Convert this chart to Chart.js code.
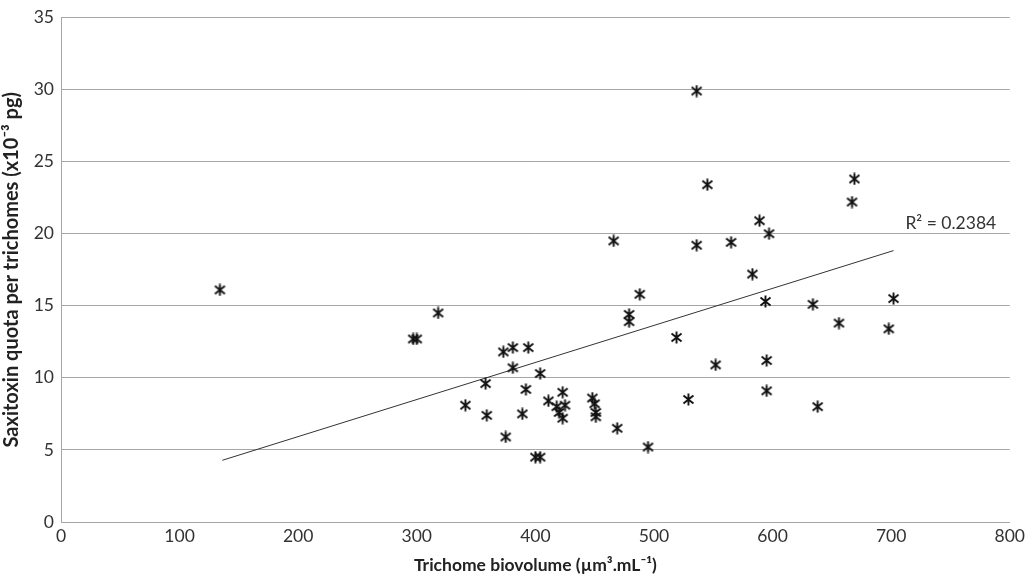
<!DOCTYPE html>
<html>
<head>
<meta charset="utf-8">
<script src="https://cdn.jsdelivr.net/npm/chart.js@4.4.0/dist/chart.umd.min.js"></script>
<style>
  body { margin: 0; background: #fff; }
  #wrap { width: 1029px; height: 582px; }
</style>
</head>
<body>
<div id="wrap"><canvas id="grafico"></canvas></div>
<script>
// valores
const biovolume = [134, 318, 297, 300, 358, 341, 359, 373, 381, 394, 381, 404, 392, 423, 411, 418,
  425, 420, 423, 448, 450, 451, 451, 389, 375, 469, 495, 529, 400, 404, 519, 536, 545, 669, 667,
  589, 597, 466, 536, 565, 583, 488, 594, 634, 702, 479, 479, 656, 698, 552, 595, 595, 638];
const saxitoxina = [16.1, 14.5, 12.7, 12.7, 9.6, 8.1, 7.4, 11.8, 12.1, 12.1, 10.7, 10.3, 9.2, 9.0, 8.4, 8.0,
  8.1, 7.6, 7.2, 8.6, 8.2, 7.6, 7.3, 7.5, 5.9, 6.5, 5.2, 8.5, 4.5, 4.5, 12.8, 29.9, 23.4, 23.8, 22.2,
  20.9, 20.0, 19.5, 19.2, 19.4, 17.2, 15.8, 15.3, 15.1, 15.5, 14.4, 13.9, 13.8, 13.4, 10.9, 11.2, 9.1, 8.0];
const tendenciaX = [136, 702];
const tendenciaY = [4.28, 18.83];
const textoR2 = "R² = 0.2384";
const yTicks = [0, 5, 10, 15, 20, 25, 30, 35];
const xTicks = [0, 100, 200, 300, 400, 500, 600, 700, 800];

const fonte = "Lato, 'Open Sans', sans-serif";

// marcador estrela do excel (X + traco vertical)
function criarEstrela() {
    const c = document.createElement("canvas");
    c.width = 13;
    c.height = 13;
    const ctx = c.getContext("2d");
    ctx.strokeStyle = "#111";
    ctx.lineWidth = 1.9;
    ctx.beginPath();
    ctx.moveTo(1.5, 2.5); ctx.lineTo(11.5, 10.5);
    ctx.moveTo(11.5, 2.5); ctx.lineTo(1.5, 10.5);
    ctx.moveTo(6.5, 0.5); ctx.lineTo(6.5, 12.5);
    ctx.stroke();
    return c;
}

let pontos = [];
for (let i = 0; i < biovolume.length; i++) {
    pontos.push({ x: biovolume[i], y: saxitoxina[i] });
}
let linha = [];
for (let i = 0; i < tendenciaX.length; i++) {
    linha.push({ x: tendenciaX[i], y: tendenciaY[i] });
}

const rotuloR2 = {
    id: "rotuloR2",
    afterDatasetsDraw(chart) {
        const ctx = chart.ctx;
        const x = chart.scales.x.getPixelForValue(712);
        const y = chart.scales.y.getPixelForValue(20.7);
        ctx.save();
        ctx.font = "17.5px " + fonte;
        ctx.fillStyle = "#333";
        ctx.textAlign = "left";
        ctx.textBaseline = "middle";
        ctx.fillText(textoR2, x, y);
        ctx.restore();
    }
};

const config = {
    type: "scatter",
    data: {
        datasets: [
            {
                label: "dados",
                data: pontos,
                pointStyle: criarEstrela(),
                pointRadius: 6,
            },
            {
                label: "tendencia",
                data: linha,
                showLine: true,
                borderColor: "#333",
                borderWidth: 1,
                pointRadius: 0,
            },
        ],
    },
    options: {
        responsive: true,
        maintainAspectRatio: false,
        animation: false,
        layout: { padding: { top: 15, right: 17, left: 0, bottom: 0 } },
        plugins: {
            legend: { display: false },
            tooltip: { enabled: false },
        },
        scales: {
            x: {
                type: "linear",
                min: 0,
                max: 800,
                afterBuildTicks: (s) => { s.ticks = xTicks.map(v => ({ value: v })); },
                afterFit: (s) => { s.height = 60; },
                grid: { display: false, drawTicks: false },
                border: { display: true, color: "#a6a6a6", width: 1 },
                ticks: { color: "#333", font: { family: fonte, size: 17.5 }, padding: 4 },
                title: {
                    display: true,
                    text: "Trichome biovolume (µm³.mL⁻¹)",
                    color: "#222",
                    font: { family: fonte, size: 17.5, weight: "bold" },
                    padding: { top: 0, bottom: 6 },
                },
            },
            y: {
                min: 0,
                max: 35,
                afterBuildTicks: (s) => { s.ticks = yTicks.map(v => ({ value: v })); },
                afterFit: (s) => { s.width = 61; },
                grid: { color: "#a6a6a6", lineWidth: 1, drawTicks: false },
                border: { display: true, color: "#a6a6a6", width: 1 },
                ticks: { color: "#333", font: { family: fonte, size: 17.5 }, padding: 7 },
                title: {
                    display: true,
                    text: "Saxitoxin quota per trichomes (x10⁻³ pg)",
                    color: "#222",
                    font: { family: fonte, size: 20, weight: "bold" },
                    padding: { top: 0, bottom: 2 },
                },
            },
        },
    },
    plugins: [rotuloR2],
};

const meuGrafico = new Chart(document.getElementById("grafico").getContext("2d"), config);
</script>
</body>
</html>
